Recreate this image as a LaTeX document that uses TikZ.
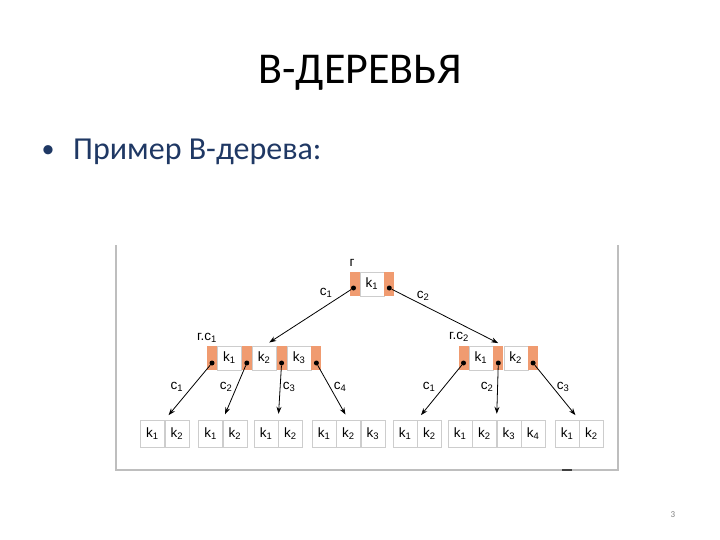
\documentclass[tikz,border=0pt]{standalone}
\usepackage{fontspec}
\setmainfont{Carlito}
\newfontfamily\diagfont{Liberation Sans}
\usetikzlibrary{calc, positioning, arrows.meta}

\definecolor{ptrorange}{RGB}{240,155,112}
\definecolor{itemblue}{RGB}{31,56,100}
\definecolor{cellgray}{RGB}{205,205,205}
\definecolor{framegray}{RGB}{190,190,190}

\newcommand{\kx}[1]{k\textsubscript{#1}}
\newcommand{\cx}[1]{c\textsubscript{#1}}

\begin{document}
\begin{tikzpicture}[x=1pt, y=-1pt]
    \tikzstyle{pointer} = [rectangle, fill=ptrorange, minimum width=10pt, minimum height=24pt, inner sep=0pt]
    \tikzstyle{keycell} = [rectangle, draw=cellgray, minimum width=24pt, minimum height=24pt, inner sep=0pt, font=\diagfont\fontsize{13.5}{15}\selectfont]
    \tikzstyle{leafcell} = [keycell, minimum height=27pt]
    \tikzstyle{dot} = [circle, fill=black, inner sep=0pt, minimum size=5pt]
    \tikzstyle{link} = [thick, -{Stealth[length=7pt, width=5pt]}, shorten >=6pt]
    \tikzstyle{lbl} = [inner sep=0pt, font=\diagfont\fontsize{13.5}{15}\selectfont]

    \useasboundingbox (0,0) rectangle (720,540);

    % Heading --------------------------------------------
    \node[anchor=base, font=\fontsize{44}{50}\selectfont] (title) at (360,84) {В-ДЕРЕВЬЯ};
    \node[anchor=base, inner sep=0pt, font=\fontsize{26}{30}\selectfont, text=itemblue] (bullet) at (48,158) {•};
    \node[anchor=base west, inner sep=0pt, font=\fontsize{32}{36}\selectfont, text=itemblue] (item) at (73,160) {Пример В-дерева:};
    \node[font=\fontsize{9}{10}\selectfont, text=gray] (pagenum) at (673,515) {3};

    % Picture frame
    \draw[framegray, line width=1.2pt] (116,245) -- (116,470) -- (618,470) -- (618,245);
    \fill[black!75] (562,468.5) rectangle (572,471);
    % ---------------------------------------------------

    % Root -----------------------------------------------
    \node[pointer] (R0) at (354.5,284) {};
    \node[keycell, right=0pt of R0] (R1) {\kx1};
    \node[pointer, right=0pt of R1] (R2) {};
    \node[lbl] (Rname) at (352,263) {г};

    % Middle level ---------------------------------------
    \node[pointer] (ML0) at (212,358) {};
    \node[keycell, right=0pt of ML0] (ML1) {\kx1};
    \node[pointer, right=0pt of ML1] (ML2) {};
    \node[keycell, right=0pt of ML2] (ML3) {\kx2};
    \node[pointer, right=0pt of ML3] (ML4) {};
    \node[keycell, right=0pt of ML4] (ML5) {\kx3};
    \node[pointer, right=0pt of ML5] (ML6) {};
    \node[lbl] (MLname) at (207,338) {г.\cx1};

    \node[pointer] (MR0) at (463.5,358) {};
    \node[keycell, right=0pt of MR0] (MR1) {\kx1};
    \node[pointer, right=0pt of MR1] (MR2) {};
    \node[keycell, right=0pt of MR2] (MR3) {\kx2};
    \node[pointer, right=0pt of MR3] (MR4) {};
    \node[lbl] (MRname) at (459,337) {г.\cx2};

    % Leaves ---------------------------------------------
    \node[leafcell] (L1a) at (152.5,433.5) {\kx1};
    \node[leafcell, right=0pt of L1a] (L1b) {\kx2};

    \node[leafcell] (L2a) at (210.5,433.5) {\kx1};
    \node[leafcell, right=0pt of L2a] (L2b) {\kx2};

    \node[leafcell] (L3a) at (266,433.5) {\kx1};
    \node[leafcell, right=0pt of L3a] (L3b) {\kx2};

    \node[leafcell] (L4a) at (324,433.5) {\kx1};
    \node[leafcell, right=0pt of L4a] (L4b) {\kx2};
    \node[leafcell, right=0pt of L4b] (L4c) {\kx3};

    \node[leafcell] (L5a) at (405,433.5) {\kx1};
    \node[leafcell, right=0pt of L5a] (L5b) {\kx2};

    \node[leafcell] (L6a) at (460,433.5) {\kx1};
    \node[leafcell, right=0pt of L6a] (L6b) {\kx2};
    \node[leafcell, right=0pt of L6b] (L6c) {\kx3};
    \node[leafcell, right=0pt of L6c] (L6d) {\kx4};

    \node[leafcell] (L7a) at (567,433.5) {\kx1};
    \node[leafcell, right=0pt of L7a] (L7b) {\kx2};

    % Pointers -------------------------------------------
    \node[dot] (R0d) at ($(R0) + (-1,4)$) {};
    \node[dot] (R2d) at ($(R2) + (0,4)$) {};
    \foreach \p in {ML0, ML2, ML4, ML6, MR0, MR2, MR4}
        \node[dot] (\p d) at ($(\p) + (0,5)$) {};

    \draw[link] (R0d) -- (ML3.north);
    \draw[link] (R2d) -- (MR3.north west);
    \node[lbl] (Rc1) at (326,293) {\cx1};
    \node[lbl] (Rc2) at (423,296) {\cx2};

    \draw[link] (ML0d) -- (L1b.north west);
    \draw[link] (ML2d) -- (L2b.north west);
    \draw[link] (ML4d) -- (L3b.north west);
    \draw[link] (ML6d) -- (L4b.north);
    \node[lbl] (MLc1) at (177,387) {\cx1};
    \node[lbl] (MLc2) at (226,387) {\cx2};
    \node[lbl] (MLc3) at (289,387) {\cx3};
    \node[lbl] (MLc4) at (340,387) {\cx4};

    \draw[link] (MR0d) -- (L5b.north west);
    \draw[link] (MR2d) -- (L6c.north west);
    \draw[link] (MR4d) -- (L7b.north west);
    \node[lbl] (MRc1) at (429,387) {\cx1};
    \node[lbl] (MRc2) at (487,387) {\cx2};
    \node[lbl] (MRc3) at (563,387) {\cx3};
\end{tikzpicture}
\end{document}
